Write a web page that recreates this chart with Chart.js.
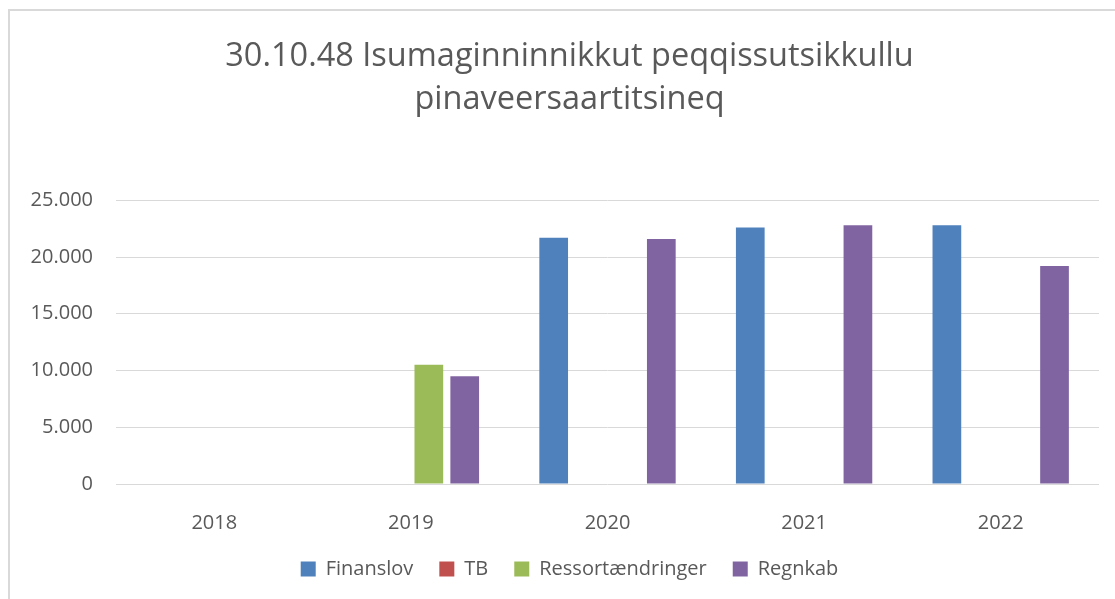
<!DOCTYPE html>
<html>
<head>
<meta charset="utf-8">
<title>30.10.48</title>
<script src="https://cdn.jsdelivr.net/npm/chart.js@4/dist/chart.umd.min.js"></script>
<style>
	html, body { margin: 0; padding: 0; background: #fff; overflow: hidden; }
	#wrap { position: absolute; left: 0; top: 0; width: 1115px; height: 599px; }
	#frame {
		position: absolute; left: 8px; top: 9px; width: 1200px; height: 700px;
		border-left: 2px solid #d9d9d9; border-top: 2px solid #d9d9d9;
		pointer-events: none;
	}
</style>
</head>
<body>
<div id="wrap"><canvas id="chart" width="1115" height="599"></canvas></div>
<div id="frame"></div>
<script>
const titleLines = ['30.10.48 Isumaginninnikkut peqqissutsikkullu', 'pinaveersaartitsineq'];
const years = ['2018', '2019', '2020', '2021', '2022'];

// values (null = no bar)
const finanslov = [null, null, 21700, 22600, 22800];
const tb = [null, null, null, null, null];
const ressort = [null, 10500, null, null, null];
const regnkab = [null, 9500, 21600, 22800, 19200];

const yTicks = [0, 5000, 10000, 15000, 20000, 25000];

const textColor = '#595959';
const gridColor = '#d9d9d9';
const font = 'Open Sans';

// 25000 -> 25.000
const fmt = (v) => String(v).replace(/\B(?=(\d{3})+(?!\d))/g, '.');

// title and legend sit a bit right of the canvas centre in the original
const shiftBlocks = {
	id: 'shiftBlocks',
	afterLayout(chart) {
		chart.titleBlock.left = 40;
		chart.legend.left = 40;
	},
};

const ctx = document.getElementById('chart').getContext('2d');

new Chart(ctx, {
	type: 'bar',
	data: {
		labels: years,
		datasets: [
			{ label: 'Finanslov', data: finanslov, backgroundColor: '#4f81bd' },
			{ label: 'TB', data: tb, backgroundColor: '#c0504d' },
			{ label: 'Ressortændringer', data: ressort, backgroundColor: '#9bbb59' },
			{ label: 'Regnkab', data: regnkab, backgroundColor: '#8064a2' },
		],
	},
	plugins: [shiftBlocks],
	options: {
		responsive: false,
		animation: false,
		categoryPercentage: 0.73,
		barPercentage: 0.8,
		layout: { padding: { left: 0, right: 16, top: 0, bottom: 10 } },
		plugins: {
			title: {
				display: true,
				text: titleLines,
				color: textColor,
				font: { family: font, size: 32.5, weight: 'normal', lineHeight: 1.32 },
				padding: { top: 35.5, bottom: 79 },
			},
			legend: {
				position: 'bottom',
				labels: {
					color: textColor,
					font: { family: font, size: 20 },
					boxWidth: 15,
					boxHeight: 15,
					padding: 26,
				},
			},
			tooltip: { enabled: false },
		},
		scales: {
			x: {
				grid: { display: false },
				border: { display: false },
				ticks: {
					color: textColor,
					font: { family: font, size: 20 },
					padding: 19,
				},
				afterFit: (scale) => { scale.height = 49; },
			},
			y: {
				min: 0,
				max: 25000,
				afterBuildTicks: (scale) => {
					scale.ticks = yTicks.map((v) => ({ value: v }));
				},
				grid: { color: gridColor, drawTicks: false },
				border: { display: false },
				ticks: {
					color: textColor,
					font: { family: font, size: 20 },
					padding: 23,
					callback: (v) => fmt(v),
				},
				afterFit: (scale) => { scale.width = 116; },
			},
		},
	},
});
</script>
</body>
</html>
